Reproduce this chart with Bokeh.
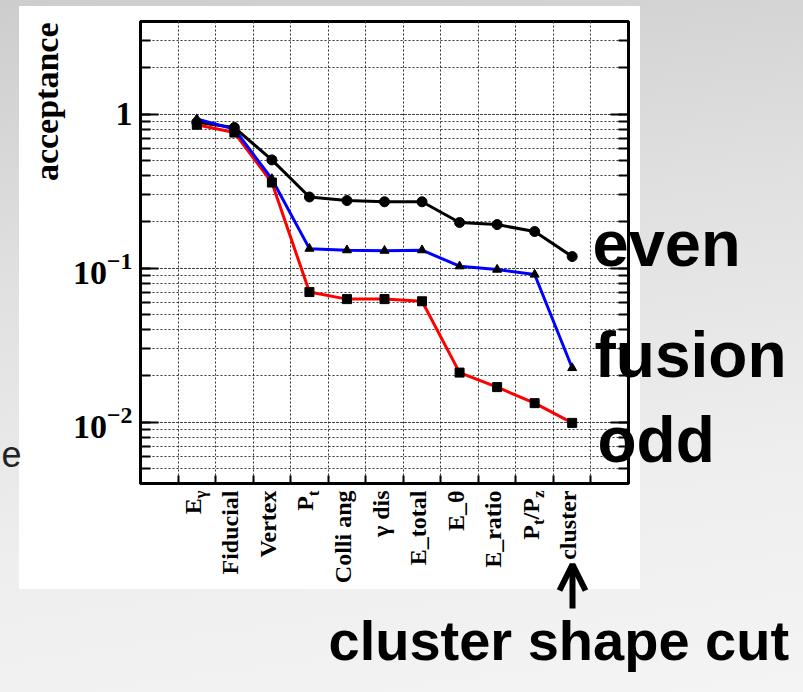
import numpy as np
from bokeh.plotting import figure
from bokeh.models import (Range1d, LogAxis, LogTicker, FixedTicker,
                          CustomJSTickFormatter, Label, LabelSet, ColumnDataSource,
                          Arrow, OpenHead)
from bokeh.core.properties import value
from bokeh.embed import file_html
from bokeh.resources import INLINE

# ---------------------------------------------------------------- data
cut_names = ["E_γ", "Fiducial", "Vertex", "P_t", "Colli ang", "γ dis",
             "E_total", "E_θ", "E_ratio", "P_t/P_z", "cluster"]
# tick label pieces: (text, is_subscript)
cut_labels = [
    [("E", False), ("γ", True)],
    [("Fiducial", False)],
    [("Vertex", False)],
    [("P", False), ("t", True)],
    [("Colli ang", False)],
    [("γ dis", False)],
    [("E_total", False)],
    [("E_θ", False)],
    [("E_ratio", False)],
    [("P", False), ("t", True), ("/P", False), ("z", True)],
    [("cluster", False)],
]
acc_even = [0.885, 0.82, 0.505, 0.29, 0.275, 0.27, 0.27, 0.198, 0.192, 0.173, 0.119]
acc_fusion = [0.93, 0.80, 0.38, 0.134, 0.131, 0.130, 0.131, 0.103, 0.098, 0.091, 0.0225]
acc_odd = [0.855, 0.76, 0.36, 0.070, 0.063, 0.063, 0.061, 0.021, 0.0169, 0.0133, 0.0099]

# ---------------------------------------------------------------- layout
W, H = 803, 692
FL, FR, FT, FB = 140, 628, 21, 483          # frame edges (px from top-left)
n = len(cut_names)
nbins = n + 2                               # one empty bin on each side
xc = np.arange(n) + 1.5                     # bin centres

page_bg = ("linear-gradient(#ffffff, #ffffff) 19px 6px / 621px 583px no-repeat, "
           "linear-gradient(172deg, #cdcdcd 0%, #e0e0e0 35%, #eeeeee 70%, #f4f4f4 100%)")

p = figure(width=W, height=H, x_range=Range1d(0, nbins), y_range=Range1d(0.004, 4),
           y_axis_type="log", output_backend="svg", toolbar_location=None,
           min_border_left=FL, min_border_right=W - FR,
           min_border_top=FT, min_border_bottom=H - FB,
           border_fill_color=None, background_fill_color="white",
           outline_line_color="black", outline_line_width=3,
           styles={"background": page_bg})

blank = CustomJSTickFormatter(code="return ''")

# y axis (log, inward ticks)
ly = p.yaxis[0]
ly.ticker = LogTicker(num_minor_ticks=10)
ly.major_label_overrides = {1: "1"}
ly.major_label_text_font = "Liberation Serif"
ly.major_label_text_font_style = "bold"
ly.major_label_text_font_size = "34px"
ly.major_label_text_color = "black"
ly.major_label_standoff = 8
ly.major_tick_in, ly.major_tick_out = 18, 0
ly.minor_tick_in, ly.minor_tick_out = 10, 0
ly.major_tick_line_width = 2
ly.minor_tick_line_width = 2
ly.axis_line_width = 3

ry = LogAxis(ticker=LogTicker(num_minor_ticks=10), formatter=blank,
             major_tick_in=18, major_tick_out=0, minor_tick_in=10, minor_tick_out=0,
             major_tick_line_width=2, minor_tick_line_width=2, axis_line_width=3,
             major_label_standoff=0)
p.add_layout(ry, "right")

# x axis: ticks on bin edges, category names drawn on the overlay
edges = list(range(1, nbins))
lx = p.xaxis[0]
lx.ticker = FixedTicker(ticks=edges)
lx.formatter = blank
lx.major_tick_in, lx.major_tick_out = 8, 0
lx.minor_tick_line_color = None
lx.major_tick_line_width = 2
lx.axis_line_width = 3
lx.major_label_standoff = 0

# dotted grids
p.xgrid.ticker = FixedTicker(ticks=edges)
for g in (p.xgrid[0], p.ygrid[0]):
    g.grid_line_color = "#333333"
    g.grid_line_dash = "2 2"
    g.grid_line_width = 1
p.ygrid.minor_grid_line_color = "#333333"
p.ygrid.minor_grid_line_dash = "2 2"
p.ygrid.minor_grid_line_width = 1

# curves
p.line(xc, acc_even, line_color="black", line_width=3)
p.line(xc, acc_odd, line_color="#ff0000", line_width=3)
p.line(xc, acc_fusion, line_color="#0000ff", line_width=3)
p.scatter(xc, acc_even, marker="circle", size=10, color="black")
p.scatter(xc, acc_odd, marker="square", size=9, color="black")
p.scatter(xc, acc_fusion, marker="triangle", size=9, color="black")

# ---------------------------------------------------------------- text overlay
# transparent full-size canvas laid over the chart, coordinates in px from top-left
q = figure(width=W, height=H, x_range=Range1d(0, W), y_range=Range1d(H, 0),
           output_backend="svg", toolbar_location=None,
           x_axis_location=None, y_axis_location=None, min_border=0,
           border_fill_color=None, background_fill_color=None, outline_line_color=None,
           styles={"position": "absolute", "top": "0px", "left": "0px", "z-index": "2"})
q.grid.visible = False

# rotated category labels with subscripts, stacked from the axis downward
TICK_FS, SUB_FS = 24, 17
em = {"γ": 0.45, "t": 0.333, "z": 0.444, "/": 0.278, "P": 0.611, "E": 0.667}
xpix = FL + xc * (FR - FL) / nbins
main = dict(x=[], y=[], text=[])
subs = dict(x=[], y=[], text=[])
for i, parts in enumerate(cut_labels):
    y = FB + 7
    for text, is_sub in reversed(parts):
        fs = SUB_FS if is_sub else TICK_FS
        d = subs if is_sub else main
        d["x"].append(xpix[i]); d["y"].append(y); d["text"].append(text)
        y += sum(em.get(c, 0.5) for c in text) * fs

common = dict(angle=np.pi / 2, text_align="right", text_baseline="middle",
              text_font=value("Liberation Serif"), text_font_style="bold",
              text_color="black")
q.add_layout(LabelSet(x="x", y="y", text="text", source=ColumnDataSource(main),
                      x_offset=-4, text_font_size=f"{TICK_FS}px", **common))
q.add_layout(LabelSet(x="x", y="y", text="text", source=ColumnDataSource(subs),
                      x_offset=4, text_font_size=f"{SUB_FS}px", **common))

q.add_layout(Label(x=46, y=22, text="acceptance", angle=np.pi / 2, text_align="right",
                   text_baseline="middle", text_font="Liberation Serif", text_color="black",
                   text_font_style="bold", text_font_size="34px"))


def big_label(x, baseline, text, fs, color="black", bold=True):
    """sans label whose letters sit on the given baseline row"""
    return Label(x=x, y=baseline - 0.36 * fs, text=text, text_font="Liberation Sans",
                 text_font_style="bold" if bold else "normal", text_color=color,
                 text_font_size=f"{fs}px", text_baseline="alphabetic", text_align="left")


# series names and annotation text
q.add_layout(big_label(592, 266, "even", 65))
q.add_layout(big_label(594, 378, "fusion", 64))
q.add_layout(big_label(597, 463, "odd", 64))
q.add_layout(big_label(328, 660, "cluster shape cut", 56))
q.add_layout(big_label(1, 466, "e", 36, color="#222222", bold=False))

q.add_layout(Arrow(x_start=572, y_start=608, x_end=572, y_end=564,
                   line_width=6, line_color="black",
                   end=OpenHead(size=26, line_width=6, line_color="black")))

# two roots: the chart, and the text layer positioned on top of it
open("out.html", "w").write(file_html([p, q], INLINE))
